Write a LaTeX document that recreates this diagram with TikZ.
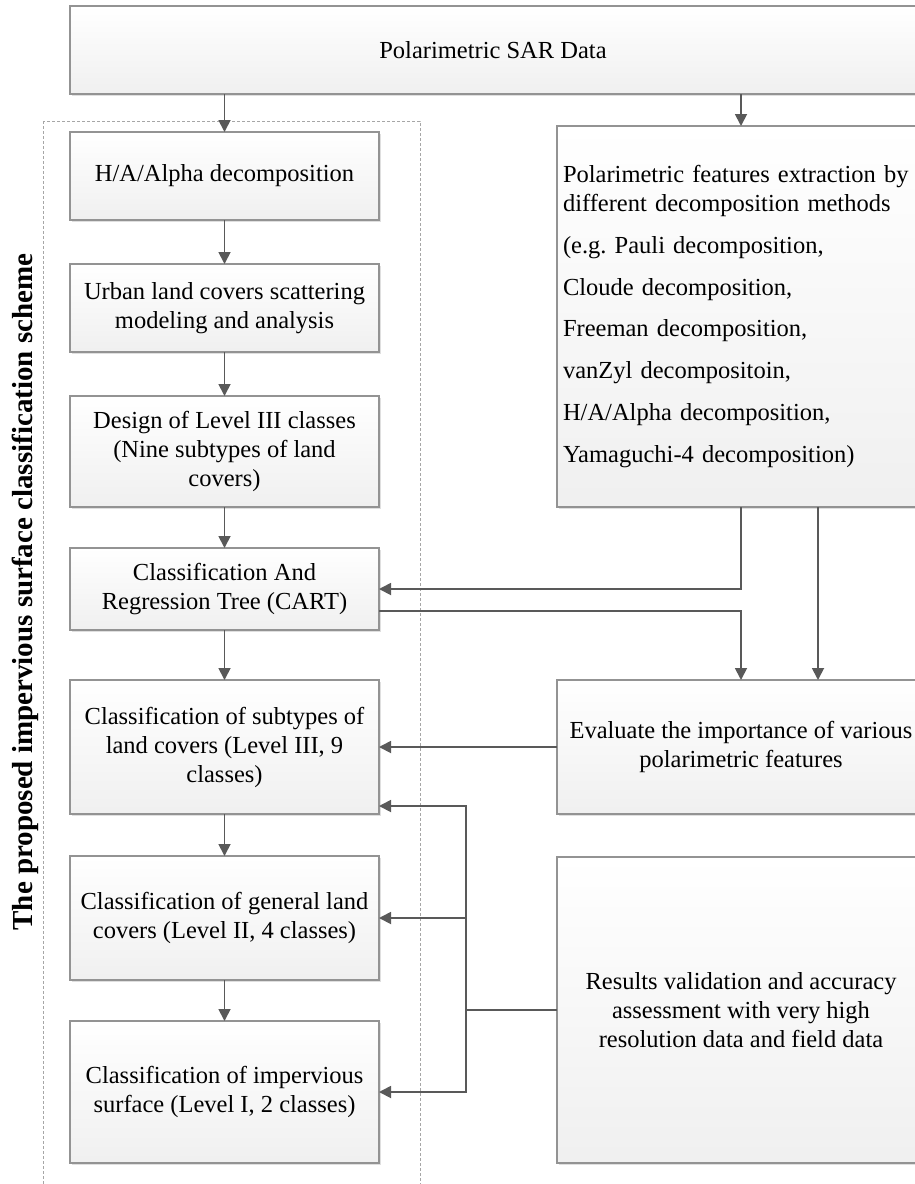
\documentclass[tikz,border=0pt]{standalone}
\usepackage{fontspec}
\setmainfont{Liberation Serif}
\usetikzlibrary{positioning, arrows.meta, shadows}

\begin{document}
\begin{tikzpicture}[
		x=1pt, y=1pt,
		% Style des boites (degrade clair, bord gris)
		procbox/.style={
			draw=gray!85,
			line width=1.1pt,
			top color=white,
			bottom color=gray!12,
			drop shadow={shadow xshift=2pt, shadow yshift=-2pt, opacity=0.25},
			font=\fontsize{24.5}{29}\selectfont,
			align=center,
			inner sep=4pt,
			outer sep=0pt,
			minimum width=309pt
		},
		% Style des fleches
		flowarrow/.style={
			-{Triangle[length=12pt,width=12pt]},
			line width=1.8pt,
			draw=black!65
		},
		% Style du cadre pointille
		framestyle/.style={
			draw=gray!70,
			line width=0.8pt,
			dash pattern=on 3pt off 2pt
		},
		% Style du titre vertical
		titlestyle/.style={
			rotate=90,
			font=\fontsize{29}{34}\selectfont\bfseries
		}
		]
		\clip (0,0) rectangle (915,-1184);
		
		% --- CADRE DU SCHEMA ---
		\draw[framestyle] (43,-121) rectangle (420,-1200);
		\node[titlestyle] (scheme) at (25,-592) {The proposed impervious surface classification scheme};
		
		% --- BLOC DU HAUT ---
		\node[procbox, minimum width=860pt, minimum height=88pt] (sar) at (500,-50) {\hspace*{-14pt}Polarimetric SAR Data};
		
		% --- COLONNE DE GAUCHE ---
		\node[procbox, minimum height=88pt] (ha) at (224.5,-176) {H/A/Alpha decomposition};
		
		\node[procbox, minimum height=88pt, below=44pt of ha] (urban) {Urban land covers scattering\\modeling and analysis};
		
		\node[procbox, minimum height=111pt, below=44pt of urban] (design) {Design of Level III classes\\(Nine subtypes of land\\covers)};
		
		\node[procbox, minimum height=82pt, below=41pt of design] (cart) {Classification And\\Regression Tree (CART)};
		
		\node[procbox, minimum height=134pt, below=50pt of cart] (sub) {Classification of subtypes of\\land covers (Level III, 9\\classes)};
		
		\node[procbox, minimum height=124pt, below=42pt of sub] (gen) {Classification of general land\\covers (Level II, 4 classes)};
		
		\node[procbox, minimum height=142pt, below=41pt of gen] (imp) {Classification of impervious\\surface (Level I, 2 classes)};
		
		% --- COLONNE DE DROITE ---
		\node[procbox, minimum width=368pt, minimum height=381pt, text width=356pt, align=left, inner xsep=6pt] (feat) at (741,-316.5) {Polarimetric features extraction by\\different decomposition methods\\[12.7pt](e.g.\ Pauli decomposition,\\[12.7pt]Cloude decomposition,\\[12.7pt]Freeman decomposition,\\[12.7pt]vanZyl decompositoin,\\[12.7pt]H/A/Alpha decomposition,\\[12.7pt]Yamaguchi-4 decomposition)};
		
		\node[procbox, minimum width=368pt, minimum height=134pt] (eval) at (741,-747) {Evaluate the importance of various\\polarimetric features};
		
		\node[procbox, minimum width=368pt, minimum height=306pt] (res) at (741,-1010) {Results validation and accuracy\\assessment with very high\\resolution data and field data};
		
		% --- COORDONNEE DU BUS DE VALIDATION ---
		\coordinate (bus) at (466,0);
		
		% --- FLECHES ---
		\draw[flowarrow] (sar.south -| ha.north) -- (ha.north);
		\draw[flowarrow] (sar.south -| feat.north) -- (feat.north);
		\draw[flowarrow] (ha) -- (urban);
		\draw[flowarrow] (urban) -- (design);
		\draw[flowarrow] (design) -- (cart);
		\draw[flowarrow] (cart) -- (sub);
		\draw[flowarrow] (sub) -- (gen);
		\draw[flowarrow] (gen) -- (imp);
		
		% Extraction -> CART et -> evaluation
		\draw[flowarrow] (feat.south) |- (cart.east);
		\draw[flowarrow] ([xshift=77pt]feat.south) -- ([xshift=77pt]feat.south |- eval.north);
		\draw[flowarrow] ([yshift=-22pt]cart.east) -| (eval.north);
		\draw[flowarrow] (eval.west) -- (sub.east);
		
		% Validation -> niveaux III, II, I
		\draw[line width=1.8pt, draw=black!65] (res.west) -- (res.west -| bus);
		\draw[flowarrow] (res.west -| bus) |- ([yshift=-59pt]sub.east);
		\draw[flowarrow] (res.west -| bus) |- (gen.east);
		\draw[flowarrow] (res.west -| bus) |- (imp.east);
		
	\end{tikzpicture}
\end{document}
